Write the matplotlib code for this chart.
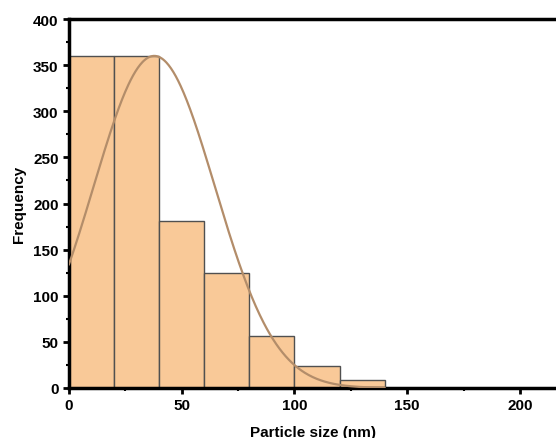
import numpy as np
import matplotlib
matplotlib.use('Agg')
import matplotlib.pyplot as plt
from matplotlib.ticker import MultipleLocator

# histogram data
bin_edges = [0, 20, 40, 60, 80, 100, 120, 140]
counts = [360, 360, 181, 125, 56, 24, 9]

# gaussian fit curve
fit_mu = 37.8
fit_sigma = 26.9
fit_peak = 360

plt.rcParams['font.family'] = ['Liberation Sans', 'DejaVu Sans']
plt.rcParams['font.weight'] = 'bold'

fig = plt.figure(figsize=(5.56, 4.39), dpi=100)
ax = fig.add_axes([69 / 556, 1 - 389 / 439, 1 - 69 / 556, (389 - 20) / 439])

lefts = bin_edges[:-1]
widths = np.diff(bin_edges)
ax.bar(lefts, counts, width=widths, align='edge', color='#F9C998',
       edgecolor='#505050', linewidth=1.0, zorder=2)

xs = np.linspace(0, 140, 400)
ys = fit_peak * np.exp(-(xs - fit_mu) ** 2 / (2 * fit_sigma ** 2))
ax.plot(xs, ys, color='#B38D6A', linewidth=1.6, zorder=3)

ax.set_xlim(0, 216)
ax.set_ylim(0, 400)

ax.xaxis.set_major_locator(MultipleLocator(50))
ax.xaxis.set_minor_locator(MultipleLocator(25))
ax.yaxis.set_major_locator(MultipleLocator(50))
ax.yaxis.set_minor_locator(MultipleLocator(25))

for side in ['left', 'bottom', 'top']:
    ax.spines[side].set_linewidth(2.5)
ax.spines['right'].set_visible(False)

ax.tick_params(which='major', direction='out', length=4, width=2, labelsize=11)
ax.tick_params(which='minor', direction='out', length=2, width=1.5)
ax.tick_params(top=False, right=False)

ax.set_xlabel('Particle size (nm)', fontsize=11, fontweight='bold', labelpad=9)
ax.set_ylabel('Frequency', fontsize=11, fontweight='bold', labelpad=5)

fig.savefig('out.png', dpi=100)
